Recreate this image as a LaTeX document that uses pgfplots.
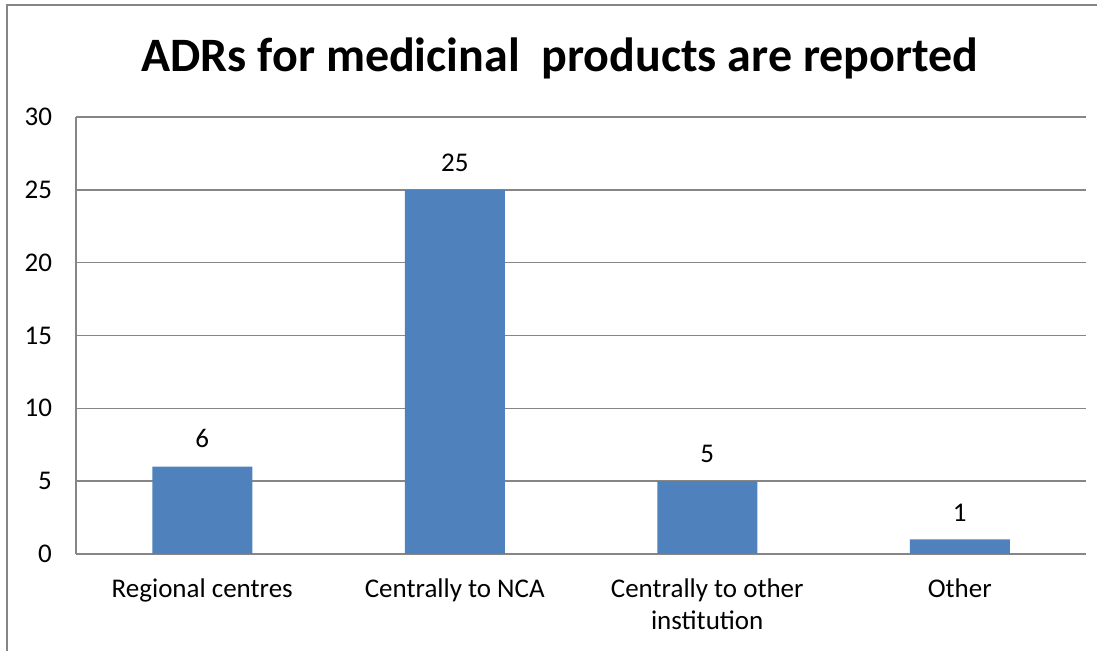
\documentclass[border=0pt]{standalone}
\usepackage{fontspec}
\setmainfont{Carlito}
\usepackage{pgfplots}
\pgfplotsset{compat=1.18}
\definecolor{barblue}{RGB}{79,129,189}
\definecolor{gridgray}{RGB}{134,134,134}
\begin{document}
\begin{tikzpicture}[x=1pt,y=1pt]
\useasboundingbox (0,0) rectangle (551.5,325.5);
\draw[gridgray, line width=0.9pt] (3.5,0) -- (3.5,323) -- (548.5,323);
\node[font=\fontsize{24}{29}\selectfont\bfseries] at (280,296.5) {ADRs for medicinal\ \ products are reported};
\begin{axis}[
  at={(38pt,48.5pt)}, anchor=south west,
  scale only axis, width=505pt, height=218.5pt,
  ymin=0, ymax=30, ytick={0,5,10,15,20,25,30},
  xmin=-0.5, xmax=3.5, xtick={0,1,2,3},
  xticklabels={Regional centres, Centrally to NCA, {Centrally to other\\institution}, Other},
  axis x line*=bottom, axis y line*=left,
  axis line style={gridgray, line width=0.8pt, -},
  ymajorgrids, grid style={gridgray, line width=0.8pt},
  major tick length=0pt,
  tick label style={font=\fontsize{13.5}{16}\selectfont},
  /pgf/number format/assume math mode=true,
  yticklabel style={xshift=-8.5pt},
  xticklabel style={align=center, yshift=-9pt},
  ybar, bar width=50pt,
  nodes near coords,
  nodes near coords style={font=\fontsize{13.5}{16}\selectfont, anchor=south, inner sep=0pt, yshift=9pt, /pgf/number format/assume math mode=true},
]
\addplot[fill=barblue, draw=none] coordinates {(0,6) (1,25) (2,5) (3,1)};
\end{axis}
\end{tikzpicture}
\end{document}
